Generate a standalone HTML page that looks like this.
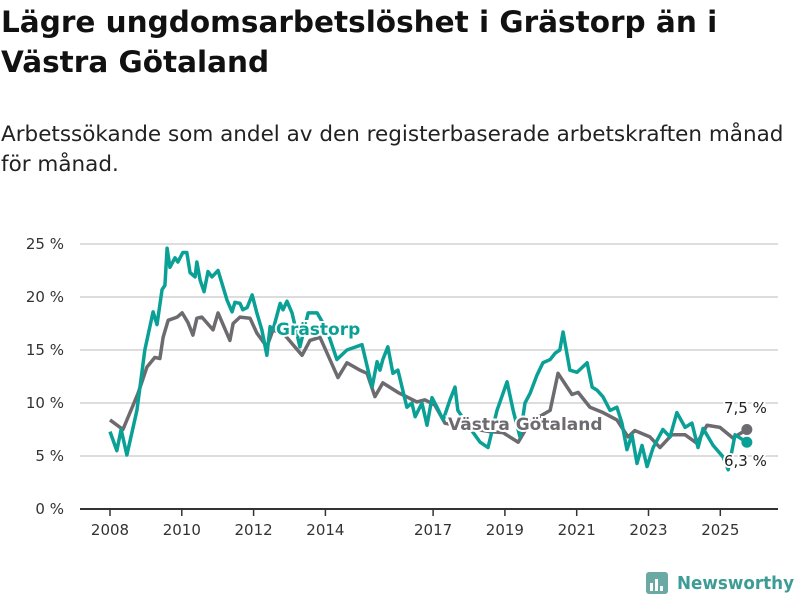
<!DOCTYPE html>
<html><head><meta charset="utf-8"><style>
body{margin:0;background:#fff;width:800px;height:600px;overflow:hidden;font-family:"DejaVu Sans","Liberation Sans",sans-serif;}
h1{position:absolute;left:1px;top:2px;margin:0;font-size:29.5px;line-height:40px;font-weight:bold;color:#111;width:735px}
p.sub{position:absolute;left:1px;top:120px;margin:0;font-size:21.5px;line-height:30px;color:#222;width:790px}
svg{position:absolute;left:0;top:0}
</style></head><body>
<h1>Lägre ungdomsarbetslöshet i Grästorp än i Västra Götaland</h1>
<p class="sub">Arbetssökande som andel av den registerbaserade arbetskraften månad för månad.</p>
<svg id="chart" width="800" height="600"></svg>
<script>
const yTicks=[0,5,10,15,20,25];
const xTicks=[2008,2010,2012,2014,2017,2019,2021,2023,2025];
const grayDates=[2008.00,2008.36,2008.78,2009.03,2009.25,2009.39,2009.48,2009.62,2009.87,2010.01,2010.17,2010.31,2010.42,2010.56,2010.87,2011.01,2011.34,2011.43,2011.62,2011.90,2012.09,2012.37,2012.54,2012.87,2013.35,2013.57,2013.85,2014.35,2014.60,2014.96,2015.16,2015.38,2015.60,2016.02,2016.55,2016.77,2017.05,2017.33,2018.03,2018.58,2018.95,2019.37,2019.70,2020.26,2020.48,2020.87,2021.04,2021.37,2021.73,2022.12,2022.43,2022.62,2023.04,2023.32,2023.65,2024.02,2024.35,2024.63,2024.99,2025.35,2025.74];
const grayValues=[8.4,7.5,10.9,13.4,14.3,14.2,16.2,17.8,18.1,18.5,17.6,16.4,18.0,18.1,16.9,18.5,15.9,17.5,18.1,18.0,16.6,15.3,16.9,16.4,14.5,15.9,16.2,12.4,13.8,13.1,12.8,10.6,11.9,11.0,10.1,10.3,9.8,8.1,7.6,7.3,7.2,6.3,8.2,9.3,12.8,10.8,11.0,9.6,9.1,8.4,6.8,7.4,6.8,5.8,7.0,7.0,6.2,7.9,7.7,6.7,7.5];
const tealDates=[2008.00,2008.19,2008.31,2008.47,2008.75,2008.97,2009.20,2009.31,2009.45,2009.53,2009.59,2009.67,2009.81,2009.89,2010.03,2010.14,2010.23,2010.37,2010.42,2010.51,2010.62,2010.73,2010.84,2011.01,2011.26,2011.40,2011.48,2011.62,2011.70,2011.82,2011.96,2012.09,2012.23,2012.37,2012.46,2012.54,2012.74,2012.82,2012.93,2013.07,2013.29,2013.52,2013.77,2014.04,2014.32,2014.60,2015.02,2015.30,2015.44,2015.52,2015.60,2015.74,2015.88,2016.02,2016.27,2016.41,2016.50,2016.69,2016.83,2016.97,2017.11,2017.28,2017.47,2017.61,2017.69,2017.97,2018.31,2018.53,2018.78,2019.06,2019.23,2019.42,2019.56,2019.70,2019.89,2020.06,2020.26,2020.40,2020.53,2020.62,2020.81,2021.01,2021.29,2021.43,2021.57,2021.73,2021.93,2022.12,2022.26,2022.40,2022.54,2022.68,2022.82,2022.96,2023.13,2023.40,2023.60,2023.79,2024.02,2024.21,2024.38,2024.52,2024.80,2025.08,2025.22,2025.41,2025.74];
const tealValues=[7.3,5.5,7.5,5.1,9.3,15.0,18.6,17.4,20.7,21.1,24.6,22.8,23.7,23.3,24.2,24.2,22.3,21.9,23.3,21.6,20.5,22.4,21.9,22.5,19.7,18.6,19.5,19.4,18.8,19.0,20.2,18.5,16.9,14.5,17.2,16.9,19.4,18.8,19.6,18.5,15.3,18.5,18.5,16.9,14.1,15.0,15.5,11.5,13.9,13.1,14.1,15.3,12.8,13.1,9.6,10.0,8.7,10.0,7.9,10.5,9.6,8.4,10.3,11.5,9.3,7.9,6.3,5.8,9.3,12.0,9.3,6.8,10.0,10.9,12.6,13.8,14.1,14.7,15.0,16.7,13.1,12.9,13.8,11.5,11.2,10.6,9.3,9.6,8.1,5.6,7.0,4.3,6.0,4.0,5.8,7.5,6.8,9.1,7.7,8.1,5.8,7.6,6.0,4.9,3.7,7.0,6.3];

const NS='http://www.w3.org/2000/svg';
const svg=document.getElementById('chart');
const x=y=>110+(y-2008)*35.9;
const yS=v=>509-v*10.6;
function mk(t,a,p){const e=document.createElementNS(NS,t);for(const k in a)e.setAttribute(k,a[k]);(p||svg).appendChild(e);return e;}
yTicks.forEach(t=>{
  const g=mk('line',{x1:80,x2:778,y1:yS(t),y2:yS(t),stroke:t===0?'#333':'#ddd','stroke-width':2});
  
  
  const l=mk('text',{x:64,y:yS(t)+5,'text-anchor':'end','font-size':15,fill:'#333'});
  l.textContent=t+' %';
  
  
});
xTicks.forEach(t=>{
  const k=mk('line',{x1:x(t),x2:x(t),y1:509,y2:516,stroke:'#333','stroke-width':1.5});
  
  
  const l=mk('text',{x:x(t),y:535,'text-anchor':'middle','font-size':15,fill:'#333'});
  l.textContent=t;
  
  
});
function line(d,v,c,name){
  const p=mk('polyline',{points:d.map((a,i)=>x(a)+','+yS(v[i])).join(' '),fill:'none',stroke:c,'stroke-width':3.5,'stroke-linejoin':'round'});
  
  
  const n=d.length-1;
  const dot=mk('circle',{cx:x(d[n]),cy:yS(v[n]),r:5.5,fill:c});
  
  
}
line(grayDates,grayValues,'#6d6a70','series-vastra-gotaland');
line(tealDates,tealValues,'#0aa096','series-grastorp');
function lab(t,xx,yy,c,name,sz,w){
  const e=mk('text',{x:xx,y:yy,fill:c,'font-size':sz,'font-weight':w,stroke:'#fff','stroke-width':4,'paint-order':'stroke'});
  e.textContent=t;
  
  
}
lab('Grästorp',276,335,'#0aa096','label-grastorp',17,'bold');
lab('Västra Götaland',448,430,'#6d6a70','label-vastra-gotaland',17,'bold');
lab('7,5 %',724,413,'#222','value-label-vastra-gotaland',15,'normal');
lab('6,3 %',724,466,'#222','value-label-grastorp',15,'normal');
const lg=mk('g',{});


mk('rect',{x:646,y:572,width:22,height:22,rx:3,fill:'#6aa9a4'},lg);
[[650,583],[655,579],[660,586]].forEach(b=>mk('rect',{x:b[0],y:b[1],width:3,height:594-b[1]-3,fill:'#fff'},lg));
const lt=mk('text',{x:677,y:589,'font-size':18,'font-weight':'bold',fill:'#3d9c95',textLength:117,lengthAdjust:'spacingAndGlyphs'},lg);
lt.textContent='Newsworthy';
</script>
</body></html>
